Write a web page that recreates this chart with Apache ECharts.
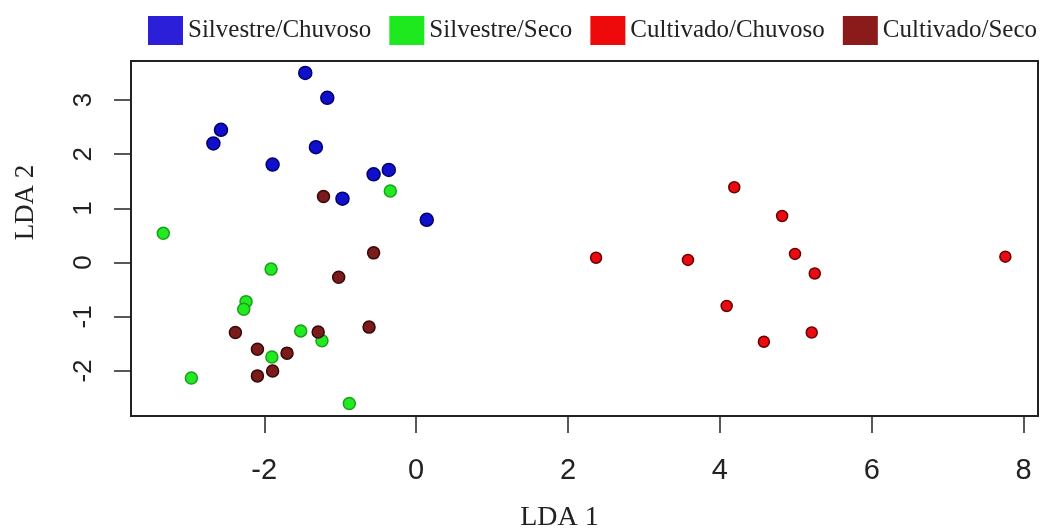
<!DOCTYPE html>
<html>
<head>
<meta charset="utf-8">
<script src="https://cdn.jsdelivr.net/npm/echarts@6/dist/echarts.min.js"></script>
<style>
  html, body { margin: 0; padding: 0; background: #fff; }
  #chart { width: 1047px; height: 530px; }
</style>
</head>
<body>
<div id="chart"></div>
<script>
// LDA scores, one [LDA1, LDA2] pair per sample
const silvestreChuvoso = [
  [-1.46, 3.50], [-1.17, 3.04], [-2.57, 2.45], [-2.67, 2.20], [-1.32, 2.13],
  [-1.89, 1.81], [-0.56, 1.63], [-0.36, 1.71], [-0.97, 1.18], [0.14, 0.79]
]
const silvestreSeco = [
  [-0.34, 1.32], [-3.33, 0.54], [-1.91, -0.12], [-2.24, -0.72], [-2.27, -0.86],
  [-1.52, -1.26], [-1.24, -1.44], [-1.90, -1.74], [-2.96, -2.13], [-0.88, -2.60]
]
const cultivadoChuvoso = [
  [4.19, 1.39], [4.82, 0.86], [2.37, 0.09], [3.58, 0.05], [4.99, 0.16],
  [5.25, -0.20], [7.76, 0.11], [4.09, -0.80], [4.58, -1.46], [5.21, -1.29]
]
const cultivadoSeco = [
  [-1.22, 1.22], [-0.56, 0.18], [-1.02, -0.27], [-2.38, -1.29], [-1.29, -1.28],
  [-0.62, -1.19], [-2.09, -1.60], [-1.70, -1.67], [-1.89, -2.00], [-2.09, -2.09]
]
const xTicks = [-2, 0, 2, 4, 6, 8]
const yTicks = [-2, -1, 0, 1, 2, 3]

const groups = [
  { name: 'Silvestre/Chuvoso', data: silvestreChuvoso, fill: '#1010cc', edge: '#00006a', key: '#2b1fd9', size: 13 },
  { name: 'Silvestre/Seco', data: silvestreSeco, fill: '#22ea22', edge: '#1aa01a', key: '#1ee81e', size: 12 },
  { name: 'Cultivado/Chuvoso', data: cultivadoChuvoso, fill: '#ea0a12', edge: '#6a0000', key: '#ee0a0a', size: 11 },
  { name: 'Cultivado/Seco', data: cultivadoSeco, fill: '#7a1c1c', edge: '#3a0808', key: '#8b1a1a', size: 12 }
]

const chart = echarts.init(document.getElementById('chart'))

const axisFont = { fontFamily: '"Liberation Sans Narrow", "Liberation Sans"', fontSize: 29, color: '#222' }
const nameFont = { fontFamily: 'Liberation Serif', fontSize: 28, color: '#222' }

chart.setOption({
  backgroundColor: '#fff',
  animation: false,
  legend: {
    left: 143,
    right: 0,
    top: 11,
    itemWidth: 35,
    itemHeight: 29,
    itemGap: 18,
    icon: 'rect',
    textStyle: { fontFamily: 'Liberation Serif', fontSize: 25, color: '#222' },
    data: groups.map(g => ({ name: g.name, itemStyle: { color: g.key, borderWidth: 0 } }))
  },
  grid: {
    left: 131, right: 9, top: 61, bottom: 114,
    outerBoundsMode: 'none',
    show: true, borderColor: '#222', borderWidth: 2, backgroundColor: 'transparent'
  },
  xAxis: {
    type: 'value',
    min: -3.755,
    max: 8.19,
    name: 'LDA 1',
    nameLocation: 'middle',
    nameGap: 88,
    nameTextStyle: Object.assign({}, nameFont, { padding: [0, 50, 0, 0] }),
    axisLine: { show: false, onZero: false },
    axisTick: { show: true, customValues: xTicks, length: 17, lineStyle: { color: '#222', width: 1.5 } },
    axisLabel: Object.assign({ customValues: xTicks, margin: 40 }, axisFont),
    splitLine: { show: false }
  },
  yAxis: {
    type: 'value',
    min: -2.83,
    max: 3.72,
    name: 'LDA 2',
    nameLocation: 'middle',
    nameGap: 92,
    nameRotate: 90,
    nameTextStyle: Object.assign({}, nameFont, { fontSize: 27, padding: [0, 0, 0, 72] }),
    axisLine: { show: false, onZero: false },
    axisTick: { show: true, customValues: yTicks, length: 17, lineStyle: { color: '#222', width: 1.5 } },
    axisLabel: Object.assign({ customValues: yTicks, margin: 34, rotate: 90 }, axisFont, { fontSize: 26 }),
    splitLine: { show: false }
  },
  series: groups.map(g => ({
    name: g.name,
    type: 'scatter',
    data: g.data,
    symbol: 'circle',
    symbolSize: g.size,
    itemStyle: { color: g.fill, borderColor: g.edge, borderWidth: 1.5, opacity: 1 }
  }))
})

window.addEventListener('resize', () => chart.resize())
</script>
</body>
</html>
